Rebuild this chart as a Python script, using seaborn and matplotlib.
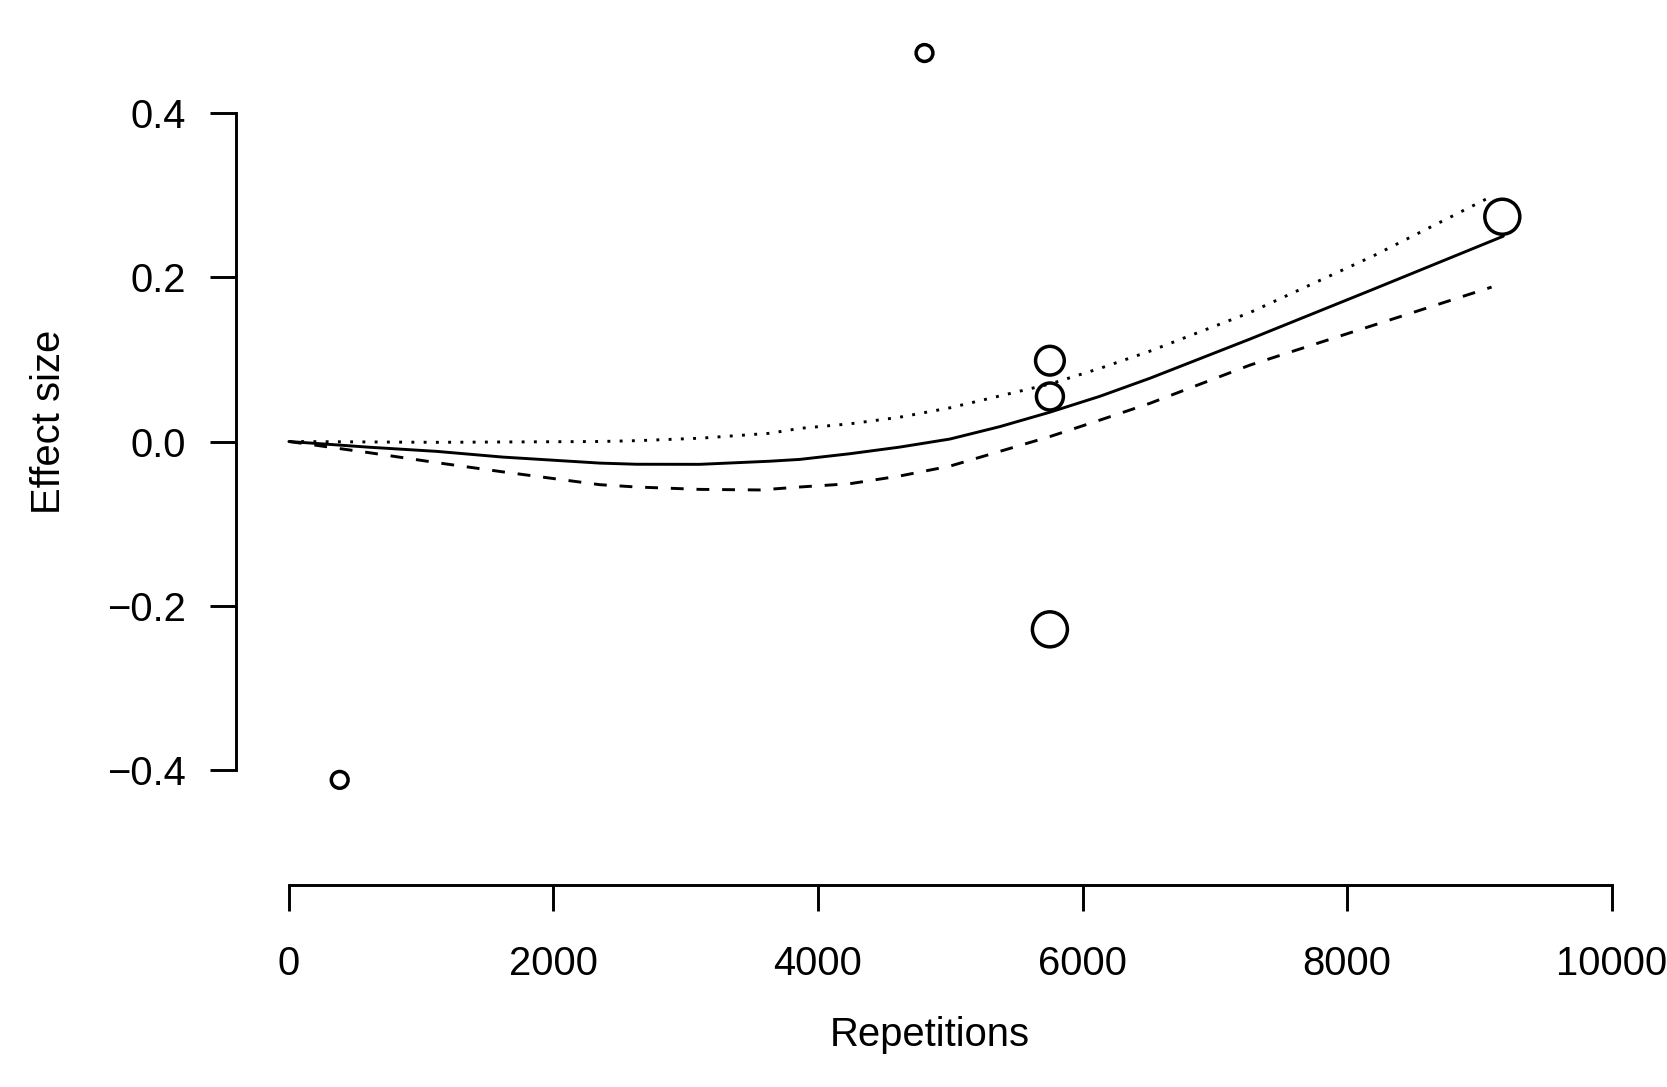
import numpy as np
import pandas as pd
import matplotlib
matplotlib.use("Agg")
import matplotlib.pyplot as plt
import seaborn as sns

# ==========================================
# Data
# ==========================================

# observed studies (repetitions vs effect size), marker weight
study_x = [384, 4805, 5753, 5753, 5753, 9173]
study_y = [-0.412, 0.473, 0.0984, 0.0548, -0.2287, 0.2737]
weights = [0.48, 0.48, 0.82, 0.77, 1.0, 1.0]

# fitted curve (solid)
fit_x = [0, 610, 1115, 1619, 2351, 2628, 3106, 3636, 3862, 4240, 4618,
         4997, 5372, 5753, 6130, 6509, 7265, 8198, 9181]
fit_y = [0.0, -0.007, -0.012, -0.019, -0.0263, -0.0277, -0.0278, -0.024,
         -0.0218, -0.0149, -0.0068, 0.003, 0.018, 0.0357, 0.055, 0.077,
         0.1247, 0.1854, 0.250]

# lower curve (dashed)
low_x = [0, 610, 1115, 1619, 2351, 2628, 3106, 3560, 3862, 4240, 4618,
         4997, 5753, 6130, 6509, 7265, 9092]
low_y = [0.0, -0.0137, -0.0257, -0.037, -0.0526, -0.0554, -0.0583, -0.059,
         -0.0554, -0.0514, -0.042, -0.030, 0.006, 0.026, 0.0465, 0.093,
         0.188]

# upper curve (dotted)
up_x = [0, 1115, 2351, 2628, 3106, 3636, 3862, 4240, 4618, 4997, 5753,
        6130, 6509, 7265, 8198, 9105]
up_y = [0.0, -0.001, 0.0, 0.001, 0.004, 0.010, 0.016, 0.0215, 0.0296,
        0.041, 0.070, 0.089, 0.110, 0.157, 0.226, 0.2996]

xticks = [0, 2000, 4000, 6000, 8000, 10000]
xtick_labels = ["0", "2000", "4000", "6000", "8000", "10000"]
yticks = [-0.4, -0.2, 0.0, 0.2, 0.4]
ytick_labels = ["\u22120.4", "\u22120.2", "0.0", "0.2", "0.4"]

studies = pd.DataFrame({"x": study_x, "y": study_y, "w": weights})

# ==========================================
# Plot
# ==========================================

sns.set_style("ticks")
plt.rcParams["font.family"] = ["Liberation Sans", "DejaVu Sans"]

fig = plt.figure(figsize=(16.67, 10.87), dpi=100)
ax = fig.add_axes([0.14157, 0.18583, 0.85700, 0.81601])

lw = 2.1
sns.lineplot(x=fit_x, y=fit_y, color="black", linewidth=lw, ax=ax)
sns.lineplot(x=low_x, y=low_y, color="black", linewidth=lw,
             linestyle=(0, (4.4, 4.4)), ax=ax)
sns.lineplot(x=up_x, y=up_y, color="black", linewidth=lw,
             linestyle=(0, (1, 3.2)), dash_capstyle="butt", ax=ax)

size_map = {w: (25.2 * w) ** 2 for w in set(weights)}
sns.scatterplot(
    data=studies, x="x", y="y", size="w", sizes=size_map,
    marker="o", facecolor="none", edgecolor="black", linewidth=2.5,
    legend=False, ax=ax, zorder=3
)

ax.set_xlim(-400, 10400)
ax.set_ylim(-0.54, 0.54)

ax.set_xticks(xticks)
ax.set_xticklabels(xtick_labels)
ax.set_yticks(yticks)
ax.set_yticklabels(ytick_labels)

sns.despine(ax=ax)
ax.spines["left"].set_bounds(-0.4, 0.4)
ax.spines["bottom"].set_bounds(0, 10000)
for side in ["left", "bottom"]:
    ax.spines[side].set_linewidth(2.1)
    ax.spines[side].set_color("black")

ax.tick_params(axis="both", direction="out", length=18.5, width=2.1,
               color="black", labelsize=28.8, labelcolor="black")
ax.tick_params(axis="x", pad=24.5)
ax.tick_params(axis="y", pad=17.3)

ax.set_xlabel("Repetitions", fontsize=28.8, color="black")
ax.set_ylabel("Effect size", fontsize=28.8, color="black")
ax.xaxis.set_label_coords(0.4858, -0.1475)
ax.yaxis.set_label_coords(-0.1176, 0.5223)

plt.savefig("out.png", dpi=100)
